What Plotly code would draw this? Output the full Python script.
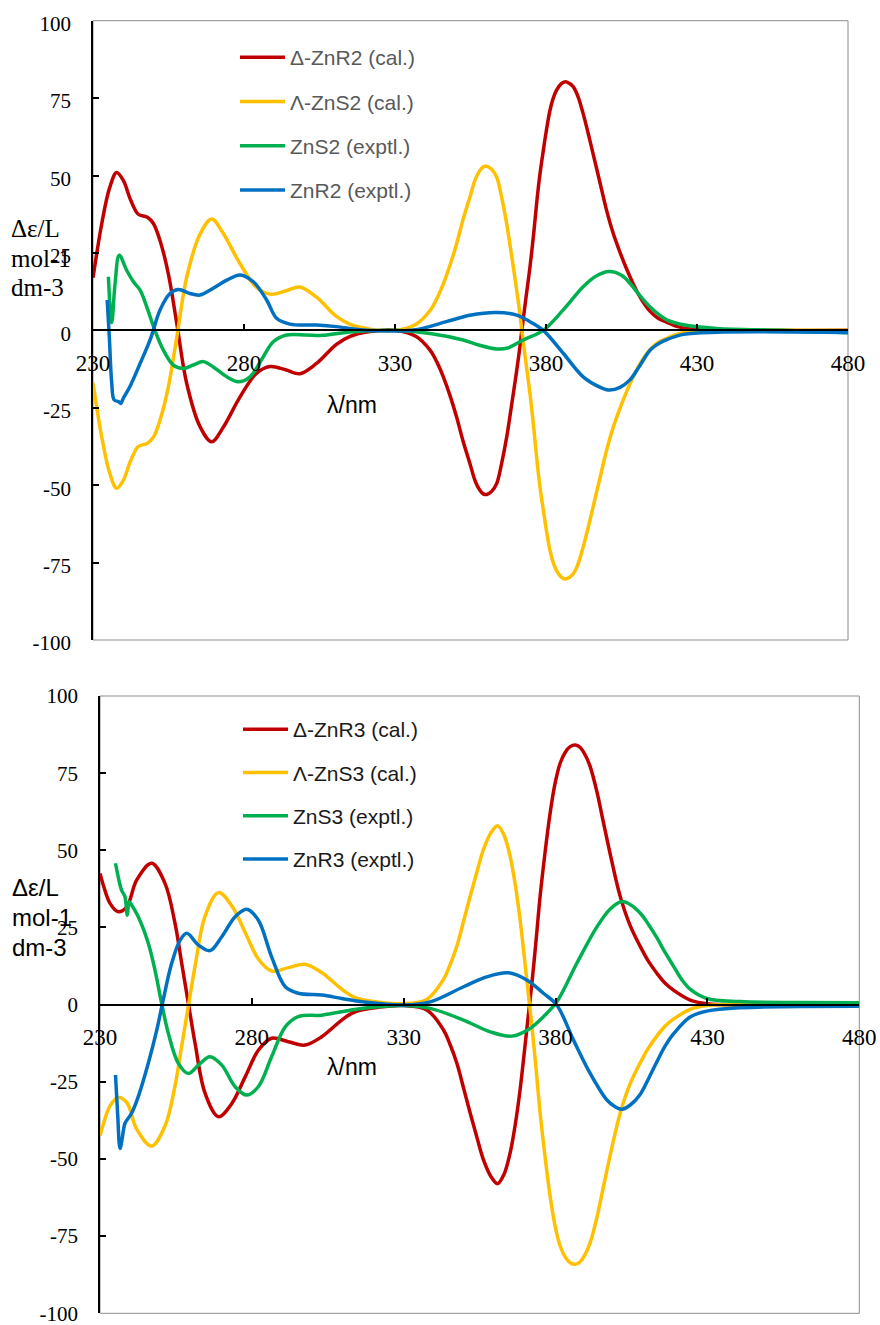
import plotly.graph_objects as go

# ---------------- Upper panel: ZnR2 / ZnS2 ----------------
wl_cal2 = [230, 233, 235.5, 237.8, 240, 242.5, 245, 248, 250, 252.5, 255, 257.7, 261,
           265.4, 269.3, 273, 278.7, 284, 288.6, 294, 298.5, 304, 310.6, 315, 321.7,
           330, 337, 341.6, 344, 346, 348.2, 350.4, 352.6, 354.8, 356.5, 358, 359.2,
           360.4, 362, 363.7, 365.3, 367, 368.4, 369.7, 371, 372, 373.3, 374.7, 376,
           377, 378, 379.1, 380.2, 381.3, 382.4, 383.5, 385, 386.4, 387.7, 389, 390.6,
           392.3, 394, 395.6, 397.8, 400, 402.2, 404.5, 406.7, 408.9, 411.5, 414.4,
           417, 420, 424, 427.7, 435, 480]
delta_znr2_cal = [17, 35, 46, 51, 48.5, 42, 37.5, 36.5, 34.5, 28, 18, 2.5, -17,
                  -31, -36, -31.5, -21.5, -14, -11.7, -12.8, -14, -10.7, -4.5, -2, -0.4,
                  0, -2, -6.4, -10.5, -15, -21, -28, -36, -43, -48.5, -51.5, -52.8,
                  -53, -52, -49.4, -43, -34.4, -25.5, -17, -8, 0, 10, 20.5, 32,
                  42, 50.5, 58, 65, 71, 75, 77.6, 79.6, 80.3, 79.8, 78.7, 75.5,
                  70, 63.5, 57, 48, 39, 31.5, 25.2, 19.8, 15, 10.2, 6.2,
                  4, 2.6, 1.1, 0.4, 0, 0]
lambda_zns2_cal = [-17, -35, -46, -51, -48.5, -42, -37.5, -36.5, -34.5, -28, -18, -2.5, 17,
                   31, 36, 31.5, 21.5, 14, 11.7, 12.8, 14, 10.7, 4.5, 2, 0.4,
                   0, 2, 6.4, 10.5, 15, 21, 28, 36, 43, 48.5, 51.5, 52.8,
                   53, 52, 49.4, 43, 34.4, 25.5, 17, 8, 0, -10, -20.5, -32,
                   -42, -50.5, -58, -65, -71, -75, -77.6, -79.6, -80.3, -79.8, -78.7, -75.5,
                   -70, -63.5, -57, -48, -39, -31.5, -25.2, -19.8, -15, -10.2, -6.2,
                   -4, -2.6, -1.1, -0.4, 0, 0]

wl_zns2_exp = [235.1, 236.2, 237.3, 238.7, 241.1, 243.4, 245.6, 247.8, 250.5, 253.3,
               256.6, 259.9, 263.2, 266.5, 269.8, 274.3, 278.1, 282, 286.4, 289.7,
               294.1, 300.7, 306.2, 315, 330, 341.6, 352.6, 358, 363.7, 367, 372.5,
               379.1, 385.7, 392.3, 396.5, 401, 405, 407.8, 411, 414.4, 417.5, 420,
               425.5, 436.5, 458.5, 480]
zns2_exp = [17.3, 2.5, 15, 24.3, 19.5, 15.7, 13, 7.6, 0, -6.4,
            -11.2, -12.3, -11.2, -10.1, -11.8, -15, -16.6, -15, -8.5, -3.7,
            -1.5, -1.5, -1.6, -0.5, 0, -1, -3.1, -4.8, -6, -5.8, -3.1,
            0, 6.6, 14.1, 17.5, 19, 17.8, 15.2, 11.3, 7.6, 5, 3.4,
            1.8, 0.6, 0, -0.8]

wl_znr2_exp = [234.7, 235.4, 236.2, 237, 238.4, 239.2, 240, 242.2, 245.6, 248.9, 252.2,
               255.5, 258.3, 262.1, 265.4, 269.8, 274.3, 278.7, 283.1, 287.5, 290.8,
               295.2, 304, 310.6, 319.5, 336, 347, 354.8, 363.7, 370.3, 374.7, 379.1,
               385.7, 392.3, 398, 401.1, 404.5, 407.8, 411, 414.4, 417.5, 420, 425.5,
               436.5, 480]
znr2_exp = [9.8, -2, -17, -22.5, -23, -23.6, -22, -18.2, -10.7, -3.1, 6.6,
            11.9, 13.2, 11.9, 11.4, 13.6, 16.2, 17.9, 15.7, 9.8, 3.9,
            2, 1.7, 1.2, 0.1, 0.1, 2.8, 4.9, 5.8, 4.9, 2.8, 0,
            -7.4, -15, -18.4, -19.3, -18.4, -16, -11.5, -6.5, -4.2, -3, -1.3,
            -0.6, -0.7]

# ---------------- Lower panel: ZnR3 / ZnS3 ----------------
wl_cal3 = [230, 231, 233.3, 236, 238.8, 242.1, 247, 251.4, 254.7, 256.9, 259.1, 261.3,
           264.6, 269, 273.4, 277.8, 282.2, 286.5, 292, 297.5, 303, 306, 309.6, 314,
           322, 329.9, 337.6, 343.1, 345.3, 347.5, 349.7, 351.9, 354.1, 356.3, 358.6,
           360.9, 363, 365, 366.7, 368.3, 370.5, 372.2, 373.5, 374.9, 376.5, 378.2,
           379.8, 381.5, 383.2, 384.8, 386.5, 388.1, 389.8, 391.4, 393.6, 395.8,
           398.5, 401.3, 404.6, 407.9, 410.6, 413.4, 416, 418.8, 424.3, 429.8, 436, 480]
delta_znr3_cal = [42.5, 39, 32.8, 30.1, 31.7, 40.4, 45.8, 39.3, 26.3, 13.4, 0.4, -12.5,
                  -28.7, -36.3, -32, -23.4, -14.7, -10.9, -12, -13.1, -10.4, -8, -5, -2.3,
                  -0.8, -0.3, -1.7, -8.2, -13, -19, -27, -35.2, -43, -50.4, -55.5,
                  -58, -55, -48.2, -39, -27.7, -8.2, 6.9, 20, 35, 49, 62,
                  71.5, 78.2, 81.8, 83.6, 84.1, 83.3, 80.8, 77.1, 69, 58.8,
                  46.5, 35, 25.5, 18.8, 14, 10.1, 7, 4.7, 1.5, 0.3, 0, 0]
lambda_zns3_cal = [-42.5, -39, -32.8, -30.1, -31.7, -40.4, -45.8, -39.3, -26.3, -13.4, -0.4, 12.5,
                   28.7, 36.3, 32, 23.4, 14.7, 10.9, 12, 13.1, 10.4, 8, 5, 2.3,
                   0.8, 0.3, 1.7, 8.2, 13, 19, 27, 35.2, 43, 50.4, 55.5,
                   58, 55, 48.2, 39, 27.7, 8.2, -6.9, -20, -35, -49, -62,
                   -71.5, -78.2, -81.8, -83.6, -84.1, -83.3, -80.8, -77.1, -69, -58.8,
                   -46.5, -35, -25.5, -18.8, -14, -10.1, -7, -4.7, -1.5, -0.3, 0, 0]

wl_zns3_exp = [235.1, 236, 237.1, 238.2, 239, 239.6, 240.4, 242.6, 245.9, 248.1, 250.3,
               252.5, 255.8, 259.1, 262.4, 266.2, 270.1, 274.5, 278.3, 282.1, 286.5,
               291, 295.3, 303, 309.6, 316.7, 329.9, 338.7, 349.7, 358.5, 365.6,
               371.6, 376, 380.4, 387, 393.6, 398, 401.8, 404.8, 407.9, 410.6, 413.4,
               416, 418.8, 421.5, 424.3, 429.8, 440.7, 460, 480]
zns3_exp = [45.8, 41.4, 37.1, 35, 29, 33.3, 32.3, 28.5, 19.9, 11.2, 0.4,
            -9.3, -19, -22.3, -19.6, -16.9, -19.6, -26.6, -29.3, -26.6, -16.9,
            -7.2, -3.9, -3.4, -2.3, -1.2, -0.3, -1.2, -5, -8.8, -10.2,
            -7.7, -3.9, 0.9, 13.4, 25.2, 31, 33.4, 32.3, 29.6, 26, 21.6,
            17, 12.5, 8.2, 5, 2, 1, 0.7, 0.6]

wl_znr3_exp = [235.1, 235.8, 236.6, 237.4, 238.2, 240.4, 242.6, 245.9, 248.7, 250.8,
               253.6, 256.4, 258.6, 262.4, 266.2, 270.1, 274.5, 278.3, 282.1, 286.5,
               291, 295.3, 303, 309.6, 316.7, 329.9, 338.7, 349.7, 357.3, 364.5,
               370.5, 376, 380.4, 385.9, 391.4, 396.9, 399.5, 401.8, 404.5, 407.9,
               410.6, 413.4, 416, 418.8, 424.3, 429.8, 440.7, 480]
znr3_exp = [-22.8, -35.2, -46.6, -42.8, -38.5, -35.2, -29.8, -19, -8.2, 1.5,
            13.4, 20.9, 23.1, 19.3, 17.5, 22, 28.5, 30.9, 27.4, 15.5,
            5.8, 3.7, 3.1, 2, 0.9, -0.1, 0.9, 5.8, 9, 10.3,
            8, 3.7, -0.1, -11.5, -22.3, -30.9, -33, -33.9, -32.6, -29,
            -24, -18.4, -13.5, -9.5, -4, -2.1, -1, -0.5]

x_ticks = [230, 280, 330, 380, 430, 480]
y_ticks = [-100, -75, -50, -25, 0, 25, 50, 75, 100]

RED, YELLOW, GREEN, BLUE = "#C00000", "#FFC000", "#00B050", "#0070C0"
LW = 3.5

fig = go.Figure()

panels = [
    ("x", "y", "legend", [
        ("Δ-ZnR2 (cal.)", wl_cal2, delta_znr2_cal, RED),
        ("Λ-ZnS2 (cal.)", wl_cal2, lambda_zns2_cal, YELLOW),
        ("ZnS2 (exptl.)", wl_zns2_exp, zns2_exp, GREEN),
        ("ZnR2 (exptl.)", wl_znr2_exp, znr2_exp, BLUE),
    ]),
    ("x2", "y2", "legend2", [
        ("Δ-ZnR3 (cal.)", wl_cal3, delta_znr3_cal, RED),
        ("Λ-ZnS3 (cal.)", wl_cal3, lambda_zns3_cal, YELLOW),
        ("ZnS3 (exptl.)", wl_zns3_exp, zns3_exp, GREEN),
        ("ZnR3 (exptl.)", wl_znr3_exp, znr3_exp, BLUE),
    ]),
]

for xa, ya, leg, series in panels:
    for name, xs, ys, col in series:
        fig.add_trace(go.Scatter(
            x=xs, y=ys, name=name, mode="lines",
            line=dict(color=col, width=LW, shape="spline", smoothing=1.0),
            xaxis=xa, yaxis=ya, legend=leg, legendgroup=name,
        ))

W, H = 880, 1325

# plot areas in pixels: (left, right, top, bottom)
top_px = (93, 848, 20.7, 640)
bot_px = (100, 859.3, 696, 1313.3)


def dom(px):
    l, r, t, b = px
    return [l / W, r / W], [1 - b / H, 1 - t / H]


xd1, yd1 = dom(top_px)
xd2, yd2 = dom(bot_px)

serif = "Liberation Serif"
sans = "Liberation Sans"


def xaxis(domain, ydom):
    return dict(
        domain=domain, anchor="free", position=(ydom[0] + ydom[1]) / 2,
        range=[230, 480], tickvals=x_ticks, ticktext=[str(v) for v in x_ticks],
        ticks="inside", ticklen=6, tickwidth=1.5, tickcolor="black",
        showline=True, linecolor="black", linewidth=1.5,
        showgrid=False, zeroline=False, automargin=False,
        tickfont=dict(family=serif, size=23, color="black"),
        ticklabelstandoff=12, ticklabeloverflow="allow",
    )


def yaxis(anchor_x, domain, fsize, shift):
    return dict(
        anchor=anchor_x, domain=domain, range=[-100, 100], tickvals=y_ticks,
        ticktext=[str(v) for v in y_ticks],
        ticks="inside", ticklen=6, tickwidth=1.5, tickcolor="black",
        showline=True, linecolor="black", linewidth=1.5,
        showgrid=False, zeroline=False, automargin=False,
        tickfont=dict(family=serif, size=fsize, color="black"),
        ticklabelstandoff=16, ticklabelshift=shift, ticklabeloverflow="allow",
    )


shapes = [
    dict(type="rect", xref="x domain", yref="y domain", x0=0, x1=1, y0=0, y1=1,
         line=dict(color="#8c8c8c", width=1), layer="below"),
    dict(type="rect", xref="x2 domain", yref="y2 domain", x0=0, x1=1, y0=0, y1=1,
         line=dict(color="#8c8c8c", width=1), layer="below"),
]


def label(text, x, y, family, size, xanchor="left"):
    return dict(text=text, xref="paper", yref="paper", x=x / W, y=1 - y / H,
                xanchor=xanchor, yanchor="middle", showarrow=False,
                font=dict(family=family, size=size, color="black"))


annotations = [
    # upper panel axis titles
    label("Δε/L", 9, 228, serif, 25),
    label("mol-1", 9, 258, serif, 25),
    label("dm-3", 9, 287, serif, 25),
    label("λ/nm", 352, 405, sans, 23, "center"),
    # lower panel axis titles
    label("Δε/L", 10, 887, sans, 24),
    label("mol-1", 10, 917, sans, 24),
    label("dm-3", 10, 947, sans, 24),
    label("λ/nm", 352, 1067, sans, 23, "center"),
]

fig.update_layout(
    width=W, height=H,
    margin=dict(l=0, r=0, t=0, b=0, autoexpand=False),
    paper_bgcolor="white", plot_bgcolor="white",
    xaxis=xaxis(xd1, yd1), yaxis=yaxis("x", yd1, 21, 3),
    xaxis2=xaxis(xd2, yd2), yaxis2=yaxis("x2", yd2, 21, 0),
    shapes=shapes, annotations=annotations,
    showlegend=True,
    legend=dict(x=235 / W, y=1 - 37 / H, xanchor="left", yanchor="top",
                bgcolor="rgba(0,0,0,0)", borderwidth=0,
                font=dict(family=sans, size=21, color="#595959"),
                itemwidth=45, tracegroupgap=14, traceorder="grouped"),
    legend2=dict(x=238 / W, y=1 - 709 / H, xanchor="left", yanchor="top",
                 bgcolor="rgba(0,0,0,0)", borderwidth=0,
                 font=dict(family=sans, size=21, color="#1a1a1a"),
                 itemwidth=45, tracegroupgap=13, traceorder="grouped"),
)

fig.write_html("out.html")
